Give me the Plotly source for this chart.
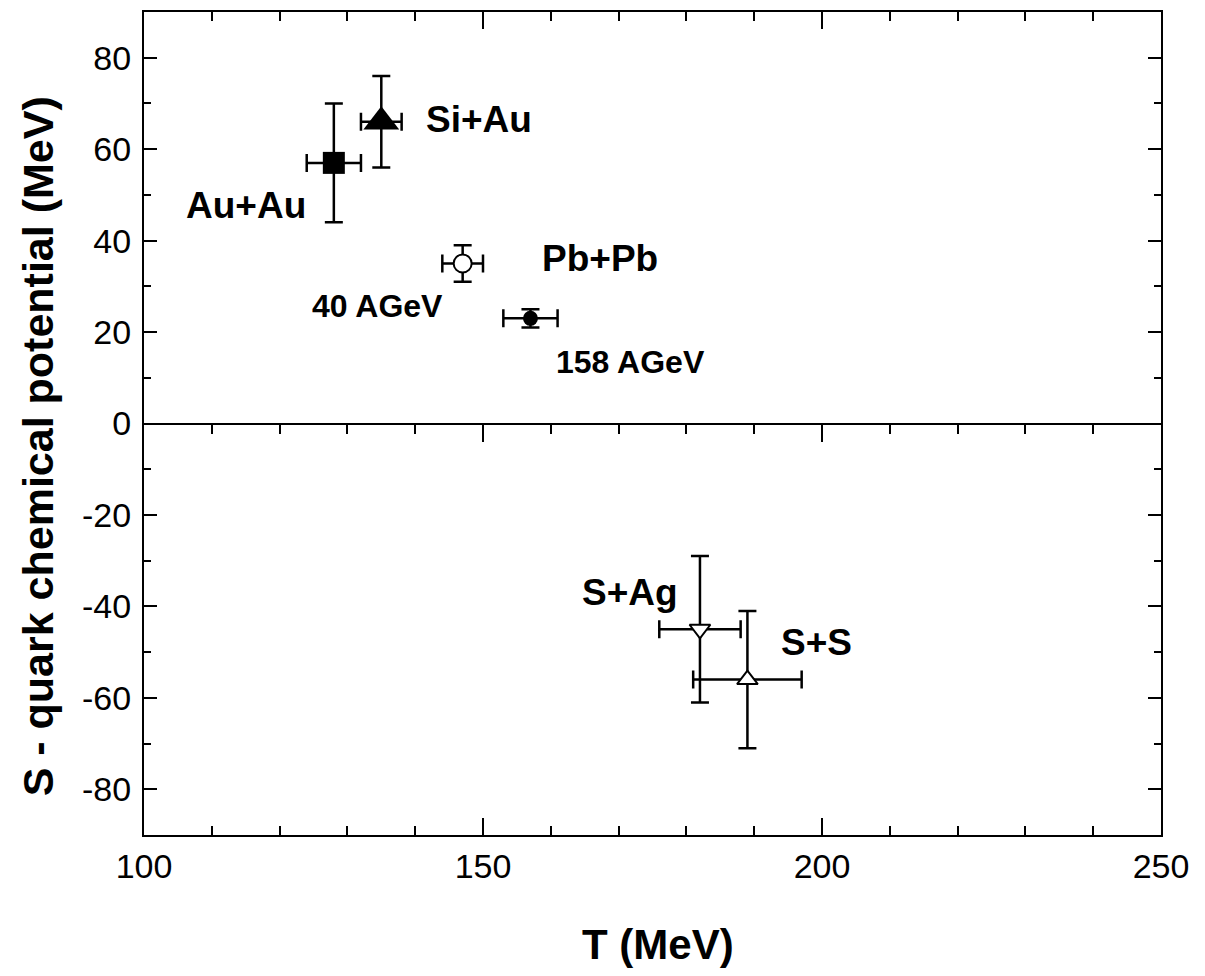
import plotly.graph_objects as go

# ---- data ----
systems = ["Au+Au", "Si+Au", "Pb+Pb 40 AGeV", "Pb+Pb 158 AGeV", "S+Ag", "S+S"]
T_vals = [128, 135, 147, 157, 182, 189]
T_errs = [4, 3, 3, 4, 6, 8]
mu_vals = [57, 66, 35, 23, -45, -56]
mu_errs = [13, 10, 4, 2, 16, 15]
symbols = ["square", "triangle-up", "circle-open", "circle", "triangle-down", "triangle-up"]
fills = ["black", "black", "white", "black", "white", "white"]
sizes = [22, 31, 18, 15, 18, 18]

label_texts = ["Au+Au", "Si+Au", "Pb+Pb", "40 AGeV", "158 AGeV", "S+Ag", "S+S"]
label_T = [115.1, 149.4, 167.2, 134.5, 171.7, 171.7, 199.2]
label_mu = [47.6, 66.5, 36.1, 25.8, 13.4, -37.0, -47.9]
label_sizes = [37, 37, 37, 32, 32, 37, 37]

x_range = [100, 250]
x_tickvals = [100, 150, 200, 250]
x_ticktext = ["100", "150", "200", "250"]
y_range = [-90, 90]
y_tickvals = [-80, -60, -40, -20, 0, 20, 40, 60, 80]
y_ticktext = ["-80", "-60", "-40", "-20", "0", "20", "40", "60", "80"]

FONT = "Liberation Sans, Arial, Helvetica, sans-serif"

fig = go.Figure()

for i, name in enumerate(systems):
    sym = symbols[i].replace("-open", "")
    fig.add_trace(go.Scatter(
        x=[T_vals[i]], y=[mu_vals[i]], mode="markers", name=name,
        showlegend=False,
        marker=dict(symbol=sym, size=sizes[i], color=fills[i],
                    line=dict(color="black", width=2 if fills[i] == "white" else 0)),
        error_x=dict(type="data", array=[T_errs[i]], color="black", thickness=2.5, width=9),
        error_y=dict(type="data", array=[mu_errs[i]], color="black", thickness=2.5, width=9),
    ))

# invisible helper trace so the zero-line tick axis is drawn
fig.add_trace(go.Scatter(x=[T_vals[0]], y=[mu_vals[0]], xaxis="x2", mode="markers",
                         marker=dict(opacity=0), hoverinfo="skip", showlegend=False))

for t, xv, yv, fs in zip(label_texts, label_T, label_mu, label_sizes):
    fig.add_annotation(x=xv, y=yv, text=f"<b>{t}</b>", showarrow=False,
                       font=dict(family=FONT, size=fs, color="black"),
                       xanchor="center", yanchor="middle")

# axis titles
fig.add_annotation(xref="paper", yref="paper", x=0.505, y=-0.1333,
                   text="<b>T (MeV)</b>", showarrow=False,
                   font=dict(family=FONT, size=42, color="black"),
                   xanchor="center", yanchor="middle")
fig.add_annotation(xref="paper", yref="paper", x=-0.1044, y=0.472,
                   text="<b>S - quark chemical potential (MeV)</b>", showarrow=False,
                   textangle=-90,
                   font=dict(family=FONT, size=43, color="black"),
                   xanchor="center", yanchor="middle")

fig.update_layout(
    width=1205, height=976,
    margin=dict(l=136, r=52, t=2, b=149),
    paper_bgcolor="white", plot_bgcolor="white",
    font=dict(family=FONT, color="black"),
    xaxis=dict(range=x_range, tickmode="array", tickvals=x_tickvals, ticktext=x_ticktext,
               ticks="inside", ticklen=17, tickwidth=2,
               tickcolor="black", showline=True, linecolor="black", linewidth=2,
               mirror="ticks", showgrid=False, zeroline=False,
               tickfont=dict(size=34, family=FONT, color="black"),
               minor=dict(dtick=10, tick0=100, ticks="inside", ticklen=9, tickwidth=2,
                          tickcolor="black", showgrid=False)),
    xaxis2=dict(range=x_range, matches="x", overlaying="x", anchor="free", position=0.5,
                side="top", dtick=50, tick0=100, ticks="inside", ticklen=17, tickwidth=2,
                tickcolor="black", showticklabels=False, showline=False, showgrid=False,
                zeroline=False,
                minor=dict(dtick=10, tick0=100, ticks="inside", ticklen=9, tickwidth=2,
                           tickcolor="black", showgrid=False)),
    yaxis=dict(range=y_range, tickmode="array", tickvals=y_tickvals, ticktext=y_ticktext,
               ticks="inside", ticklen=13, tickwidth=2, ticklabelstandoff=4,
               tickcolor="black", showline=True, linecolor="black", linewidth=2,
               mirror="ticks", showgrid=False, zeroline=True, zerolinecolor="black",
               zerolinewidth=2,
               tickfont=dict(size=34, family=FONT, color="black"),
               minor=dict(dtick=10, tick0=0, ticks="inside", ticklen=7, tickwidth=2,
                          tickcolor="black", showgrid=False)),
)

fig.write_html("out.html")
